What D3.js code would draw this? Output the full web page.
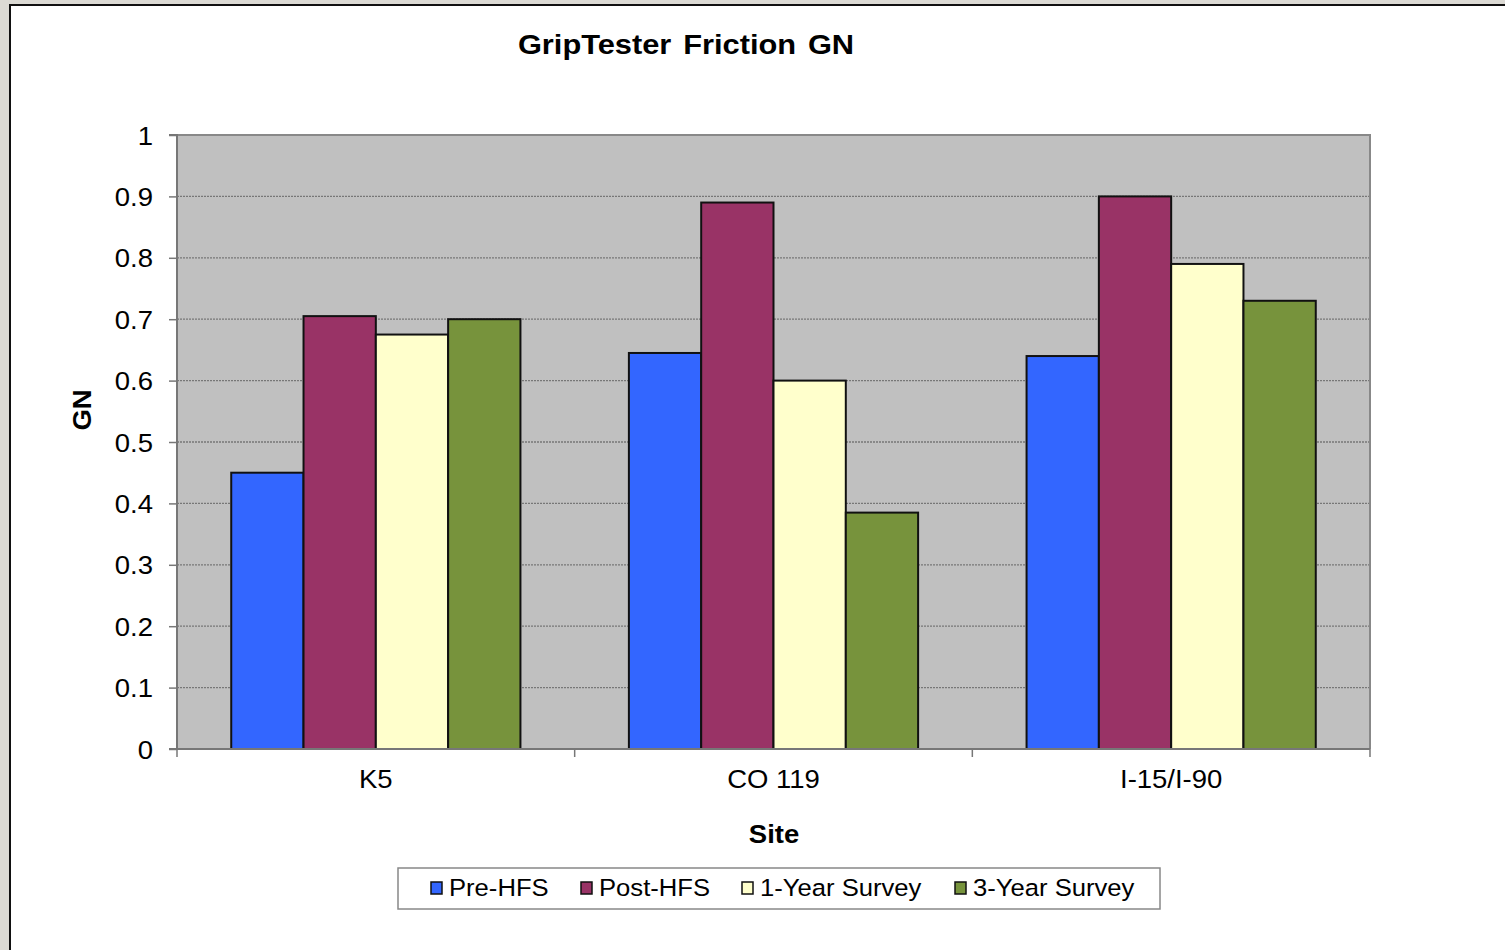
<!DOCTYPE html>
<html><head><meta charset="utf-8">
<script src="https://cdn.jsdelivr.net/npm/d3@7"></script>
<style>html,body{margin:0;padding:0;background:#dcdad4;}svg{display:block;}</style>
</head><body>
<svg id="c" width="1505" height="950"></svg>
<script>
const categories = ["K5", "CO 119", "I-15/I-90"];
const seriesNames = ["Pre-HFS", "Post-HFS", "1-Year Survey", "3-Year Survey"];
const preHFS = [0.45, 0.645, 0.64];
const postHFS = [0.705, 0.89, 0.90];
const oneYear = [0.675, 0.60, 0.79];
const threeYear = [0.70, 0.385, 0.73];
const yTicks = [0, 0.1, 0.2, 0.3, 0.4, 0.5, 0.6, 0.7, 0.8, 0.9, 1];
const colors = ["#3366FF", "#993366", "#FFFFCC", "#77933C"];
const seriesValues = [preHFS, postHFS, oneYear, threeYear];

const svg = d3.select("#c");
const font = "Arial, 'Liberation Sans', sans-serif";
const SX = 1.1; // horizontal text stretch
function stretchedText(parent, x, y, str, size, opts = {}) {
  const t = parent.append("text")
    .attr("transform", `translate(${x},${y}) scale(${opts.sx || SX},1)`)
    .attr("font-family", font).attr("font-size", size).attr("fill", "#000")
    .attr("text-anchor", opts.anchor || "start")
    .attr("font-weight", opts.bold ? "bold" : "normal")
    .text(str);
  if (opts.wordSpacing) t.attr("word-spacing", opts.wordSpacing);
  return t;
}

// frame
svg.append("rect").attr("x", 10).attr("y", 5).attr("width", 1495).attr("height", 945).attr("fill", "#fff");
svg.append("line").attr("x1", 10).attr("x2", 10).attr("y1", 5).attr("y2", 950).attr("stroke", "#111").attr("stroke-width", 2);
svg.append("line").attr("x1", 9).attr("x2", 1505).attr("y1", 5).attr("y2", 5).attr("stroke", "#111").attr("stroke-width", 2);

const L = 177, R = 1370, T = 135, B = 749;
const x0 = d3.scaleBand().domain(categories).range([L, R]).paddingInner(0).paddingOuter(0);
const gapRatio = 1.5;
const y = d3.scaleLinear().domain([0, 1]).range([B, T]);

svg.append("rect").attr("x", L).attr("y", T).attr("width", R - L).attr("height", B - T).attr("fill", "#C0C0C0");
// grid
svg.append("g").selectAll("line").data(yTicks.filter(d => d > 0 && d < 1)).join("line")
  .attr("x1", L).attr("x2", R).attr("y1", d => y(d)).attr("y2", d => y(d))
  .attr("stroke", "#777").attr("stroke-width", 1.3).attr("stroke-dasharray", "2,1");
// plot border top/right
svg.append("path").attr("d", `M${L},${T}H${R}V${B}`).attr("fill", "none").attr("stroke", "#888").attr("stroke-width", 2);

// bars
const bw = x0.bandwidth() / (4 + gapRatio);
const x1 = d3.scaleBand().domain(d3.range(4)).range([bw * gapRatio / 2, bw * gapRatio / 2 + 4 * bw]);
const g = svg.append("g");
categories.forEach((c, ci) => {
  seriesValues.forEach((vals, si) => {
    g.append("rect")
      .attr("x", x0(c) + x1(si)).attr("y", y(vals[ci]))
      .attr("width", x1.bandwidth()).attr("height", y(0) - y(vals[ci]))
      .attr("fill", colors[si]).attr("stroke", "#111").attr("stroke-width", 2);
  });
});

// axes
const yAxis = d3.axisLeft(y).tickValues(yTicks).tickSize(8).tickFormat(d3.format("~g"));
const ya = svg.append("g").attr("transform", `translate(${L},0)`).call(yAxis);
ya.select(".domain").attr("stroke", "#777").attr("stroke-width", 2).attr("d", `M-8,${T}H0V${B}H-8`);
ya.selectAll(".tick line").attr("stroke", "#777").attr("stroke-width", 1.5);
ya.selectAll(".tick text").attr("font-family", font).attr("font-size", 25).attr("fill", "#000")
  .attr("x", -24 / SX).attr("dy", "0.36em").attr("transform", `scale(${SX},1)`);

const xa = svg.append("g").attr("transform", `translate(0,${B})`)
  .call(d3.axisBottom(x0).tickSize(0));
xa.select(".domain").attr("stroke", "#777").attr("stroke-width", 2).attr("d", `M${L},0H${R}`);
xa.selectAll(".tick text").remove();
categories.forEach(c => stretchedText(svg, x0(c) + x0.bandwidth() / 2, B + 39, c, 25, { anchor: "middle" }));
svg.append("g").selectAll("line").data([L, ...categories.map(c => x0(c) + x0.bandwidth())]).join("line")
  .attr("x1", d => d).attr("x2", d => d).attr("y1", B).attr("y2", B + 8)
  .attr("stroke", "#777").attr("stroke-width", 1.5);

// titles
stretchedText(svg, 686, 54, "GripTester Friction GN", 28, { anchor: "middle", bold: true, wordSpacing: 3 });
svg.append("text").attr("transform", `translate(91,410) rotate(-90) scale(${SX},1)`).attr("text-anchor", "middle")
  .attr("font-family", font).attr("font-weight", "bold").attr("font-size", 25).text("GN");
stretchedText(svg, 774, 843, "Site", 25, { anchor: "middle", bold: true });

// legend
svg.append("rect").attr("x", 398).attr("y", 868).attr("width", 762).attr("height", 41)
  .attr("fill", "#fff").attr("stroke", "#888").attr("stroke-width", 1.5);
const legX = [431, 581, 742, 955];
seriesNames.forEach((n, i) => {
  svg.append("rect").attr("x", legX[i]).attr("y", 882).attr("width", 11).attr("height", 12)
    .attr("fill", colors[i]).attr("stroke", "#111").attr("stroke-width", 1.5);
  stretchedText(svg, legX[i] + 18, 896, n, 23.3);
});
</script>
</body></html>
